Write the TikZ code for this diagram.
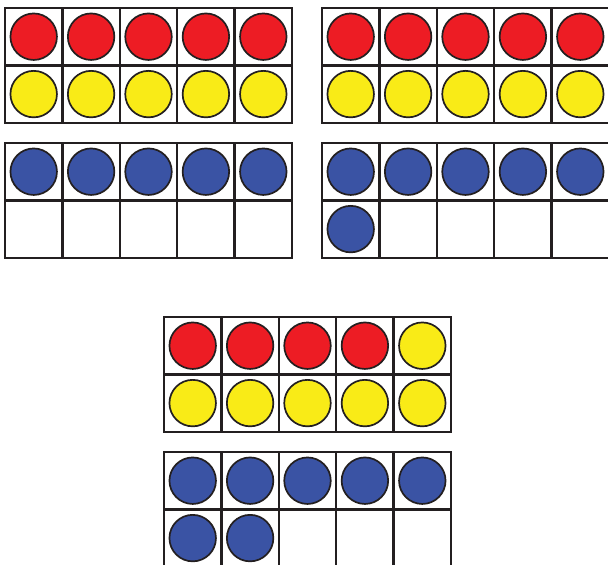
\documentclass[tikz,border=0pt]{standalone}
\usepackage{tikz}
\usepackage{xcolor}
\definecolor{dotred}{HTML}{ED1C24}
\definecolor{dotyellow}{HTML}{F9EB17}
\definecolor{dotblue}{HTML}{3A53A4}
\definecolor{inkline}{HTML}{231F20}

\newcommand{\cellw}{57.4}
% ten-frame: name, left x, top y, counter colours in cell order
\newcommand{\tenframe}[4]{%
  \draw[framerule] (#2,-#3) rectangle ++(5*\cellw,-2*\cellw);
  \foreach \i in {1,...,4}
    \draw[framerule] (#2+\i*\cellw,-#3) -- ++(0,-2*\cellw);
  \draw[framerule] (#2,-#3-\cellw) -- ++(5*\cellw,0);
  \foreach \c [count=\k from 0] in {#4} {
    \pgfmathtruncatemacro{\col}{mod(\k,5)}
    \pgfmathtruncatemacro{\row}{int(\k/5)}
    \node[counter=\c] (#1-\k) at (#2+\col*\cellw+0.5*\cellw,-#3-\row*\cellw-0.5*\cellw) {};
  }%
}

\begin{document}
\begin{tikzpicture}[
      x=1pt, y=1pt,
      framerule/.style={draw=inkline, line width=2.3pt},
      counter/.style={circle, draw=inkline, line width=1.7pt, fill=#1,
                      minimum size=46.5pt, inner sep=0pt}
    ]
    \useasboundingbox (0,0) rectangle (608,-565);
    \clip (0,0) rectangle (608,-565);
    % top pair
    \tenframe{ta}{5}{8}{dotred,dotred,dotred,dotred,dotred,dotyellow,dotyellow,dotyellow,dotyellow,dotyellow}
    \tenframe{tb}{322}{8}{dotred,dotred,dotred,dotred,dotred,dotyellow,dotyellow,dotyellow,dotyellow,dotyellow}
    % second pair
    \tenframe{sa}{5}{143}{dotblue,dotblue,dotblue,dotblue,dotblue}
    \tenframe{sb}{322}{143}{dotblue,dotblue,dotblue,dotblue,dotblue,dotblue}
    % bottom pair
    \tenframe{ba}{164}{317}{dotred,dotred,dotred,dotred,dotyellow,dotyellow,dotyellow,dotyellow,dotyellow,dotyellow}
    \tenframe{bb}{164}{452}{dotblue,dotblue,dotblue,dotblue,dotblue,dotblue,dotblue}
  \end{tikzpicture}
\end{document}
